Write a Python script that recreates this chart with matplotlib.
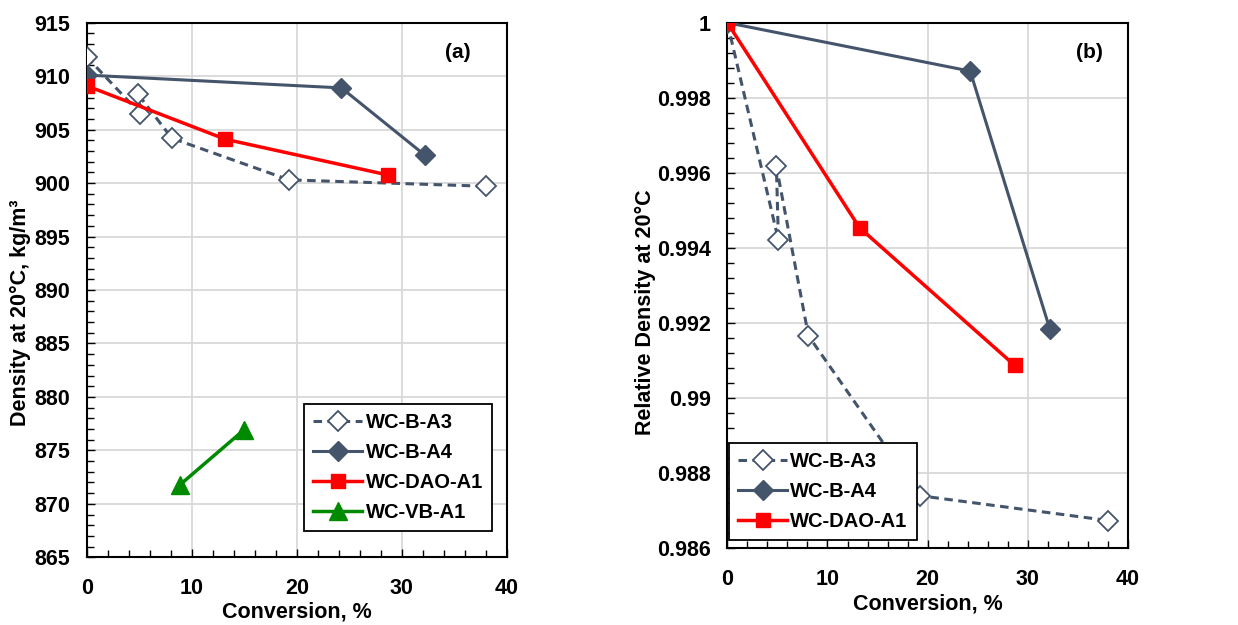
import matplotlib
matplotlib.use("Agg")
import matplotlib.pyplot as plt
from matplotlib.ticker import MultipleLocator

plt.rcParams['font.family'] = ['Liberation Sans', 'DejaVu Sans']
plt.rcParams['font.weight'] = 'bold'

# ---- Data: panel (a) density, kg/m3 ----
a3_conv = [0.0, 5.1, 4.9, 8.1, 19.25, 38.05]
a3_dens = [911.8, 906.5, 908.3, 904.2, 900.3, 899.7]
a4_conv = [0.0, 24.25, 32.2]
a4_dens = [910.1, 908.9, 902.6]
dao_conv = [0.0, 13.2, 28.7]
dao_dens = [909.1, 904.1, 900.75]
vb_conv = [8.9, 14.95]
vb_dens = [871.8, 876.9]

# ---- Data: panel (b) relative density ----
a3_rel = [1.0, 0.99421, 0.99617, 0.99166, 0.98740, 0.98674]
a4_rel = [1.0, 0.99871, 0.99184]
dao_rel = [1.0, 0.99454, 0.99087]

b_yticks = [0.986, 0.988, 0.99, 0.992, 0.994, 0.996, 0.998, 1.0]
b_yticklabels = ['0.986', '0.988', '0.99', '0.992', '0.994', '0.996', '0.998', '1']

SLATE = '#44546A'
RED = '#FF0000'
GREEN = '#008A00'
TICK_FS = 15.5
LAB_FS = 15.5
LEG_FS = 14.5
W, H = 1238, 625

fig = plt.figure(figsize=(W / 100, H / 100), dpi=100)
axa = fig.add_axes([0.070, 0.1083, 0.3395, 0.8554])
axb = fig.add_axes([0.5875, 0.1227, 0.3236, 0.8410])

def style(ax):
    ax.grid(True, which='major', color='#d9d9d9', linewidth=1.3, zorder=0)
    ax.set_axisbelow(True)
    for s in ax.spines.values():
        s.set_color('black')
        s.set_linewidth(1.5)
    ax.tick_params(which='both', direction='in', top=False, right=False,
                   labelsize=TICK_FS, width=1.0, color='black')
    ax.tick_params(axis='y', which='both', pad=12)
    ax.tick_params(axis='x', which='both', pad=15)
    ax.tick_params(which='major', length=6)
    ax.tick_params(which='minor', length=5)
    for lab in ax.get_xticklabels() + ax.get_yticklabels():
        lab.set_fontweight('bold')

def labels(ax, ylabel, ylab_x, xlab_x, xlab_y):
    ax.set_xlabel('Conversion, %', fontsize=LAB_FS, fontweight='bold', va='center')
    ax.xaxis.set_label_coords(xlab_x / W, 1 - xlab_y / H, transform=fig.transFigure)
    ax.set_ylabel(ylabel, fontsize=LAB_FS, fontweight='bold', va='center')
    ax.yaxis.set_label_coords(ylab_x / W, 0.5, transform=fig.transFigure)

def legend(ax, **kw):
    leg = ax.legend(fontsize=LEG_FS, frameon=True, fancybox=False, edgecolor='black',
                    handlelength=2.45, handletextpad=0.15, labelspacing=0.55,
                    borderpad=0.45, borderaxespad=0, framealpha=1, **kw)
    leg.get_frame().set_linewidth(1.3)
    for t in leg.get_texts():
        t.set_fontweight('bold')
    return leg

# Panel (a)
axa.plot(a3_conv, a3_dens, linestyle=(0, (2.8, 1.8)), color=SLATE, linewidth=2.2,
         marker='D', markersize=10, markerfacecolor='white', markeredgecolor=SLATE,
         markeredgewidth=1.3, label='WC-B-A3', zorder=3)
axa.plot(a4_conv, a4_dens, '-', color=SLATE, linewidth=2.2, marker='D', markersize=10,
         markerfacecolor=SLATE, markeredgecolor=SLATE, label='WC-B-A4', zorder=4)
axa.plot(dao_conv, dao_dens, '-', color=RED, linewidth=2.5, marker='s', markersize=10,
         markerfacecolor=RED, markeredgecolor=RED, label='WC-DAO-A1', zorder=5)
axa.plot(vb_conv, vb_dens, '-', color=GREEN, linewidth=2.5, marker='^', markersize=13,
         markerfacecolor=GREEN, markeredgecolor=GREEN, label='WC-VB-A1', zorder=5)
axa.set_xlim(0, 40)
axa.set_ylim(865, 915)
axa.xaxis.set_major_locator(MultipleLocator(10))
axa.xaxis.set_minor_locator(MultipleLocator(2))
axa.yaxis.set_major_locator(MultipleLocator(5))
axa.yaxis.set_minor_locator(MultipleLocator(1))
style(axa)
axa.text(0.883, 0.945, '(a)', transform=axa.transAxes, fontsize=15, fontweight='bold',
         ha='center', va='center')
legend(axa, loc='lower right', bbox_to_anchor=(0.964, 0.049))

# Panel (b)
axb.plot(a3_conv, a3_rel, linestyle=(0, (2.8, 1.8)), color=SLATE, linewidth=2.2,
         marker='D', markersize=10, markerfacecolor='white', markeredgecolor=SLATE,
         markeredgewidth=1.3, label='WC-B-A3', zorder=3)
axb.plot(a4_conv, a4_rel, '-', color=SLATE, linewidth=2.2, marker='D', markersize=10,
         markerfacecolor=SLATE, markeredgecolor=SLATE, label='WC-B-A4', zorder=4)
axb.plot(dao_conv, dao_rel, '-', color=RED, linewidth=2.5, marker='s', markersize=10,
         markerfacecolor=RED, markeredgecolor=RED, label='WC-DAO-A1', zorder=5)
axb.set_xlim(0, 40)
axb.set_ylim(0.986, 1.0)
axb.xaxis.set_major_locator(MultipleLocator(10))
axb.xaxis.set_minor_locator(MultipleLocator(2))
axb.yaxis.set_minor_locator(MultipleLocator(0.0004))
axb.set_yticks(b_yticks)
axb.set_yticklabels(b_yticklabels)
style(axb)
axb.text(0.905, 0.944, '(b)', transform=axb.transAxes, fontsize=15, fontweight='bold',
         ha='center', va='center')
legend(axb, loc='lower left', bbox_to_anchor=(0.004, 0.015))

labels(axa, 'Density at 20°C, kg/m³', 20, (86.7 + 507) / 2, 612)
labels(axb, 'Relative Density at 20°C', 645, (727.3 + 1128) / 2, 604)

fig.savefig('out.png', dpi=100, facecolor='white')
